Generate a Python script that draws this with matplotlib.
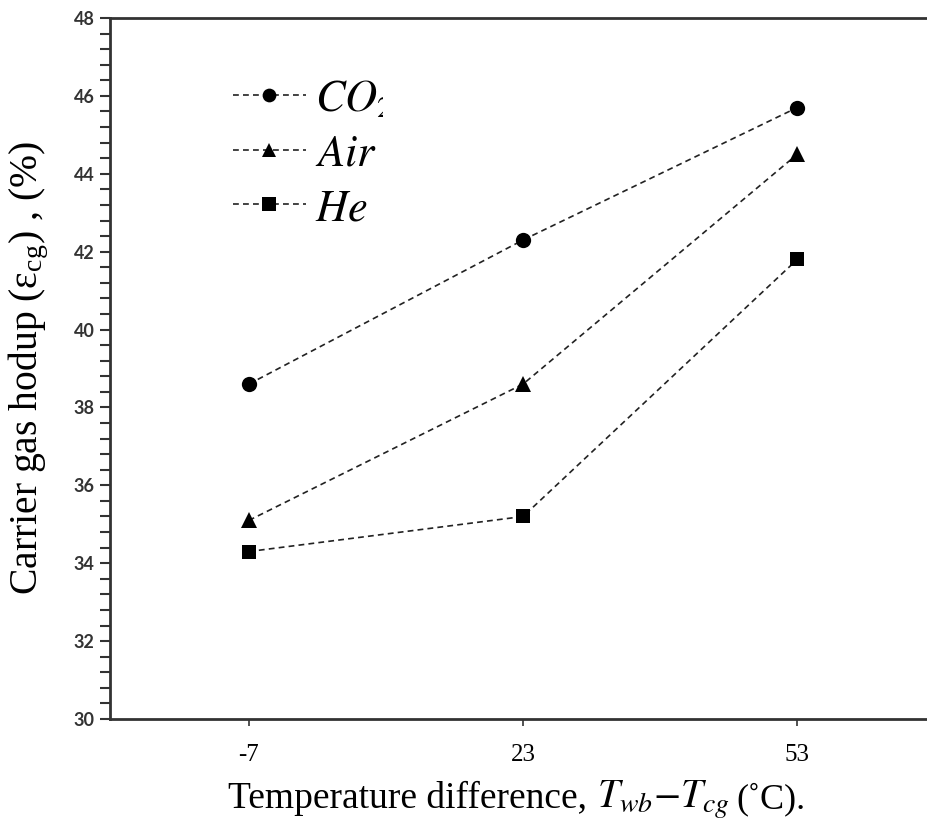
import matplotlib
matplotlib.use("Agg")
import matplotlib.pyplot as plt
from matplotlib.ticker import MultipleLocator, FixedLocator
from matplotlib.transforms import Bbox, TransformedBbox

temps = [-7, 23, 53]
temp_labels = ["-7", "23", "53"]
co2 = [38.6, 42.3, 45.7]
air = [35.1, 38.6, 44.5]
he = [34.3, 35.2, 41.8]
series_names = [r"$\mathit{CO_2}$", r"$\mathit{Air}$", r"$\mathit{He}$"]

plt.rcParams["mathtext.fontset"] = "stix"

fig = plt.figure(figsize=(9.27, 8.26), dpi=100)
ax = fig.add_axes([110/927, 1-719/826, 1-110/927, (719-18)/826])

line_kw = dict(color="#222222", linestyle=(0, (3.5, 2.5)), linewidth=1.2,
               markersize=11, markeredgewidth=0, markerfacecolor="black")
h1, = ax.plot(temps, co2, marker="o", **line_kw)
h2, = ax.plot(temps, air, marker="^", **line_kw)
h3, = ax.plot(temps, he, marker="s", **{**line_kw, "markersize": 10.5})

ax.set_xlim(-22.2, 67.2)
ax.set_ylim(30, 48)
ax.xaxis.set_major_locator(FixedLocator(temps))
ax.set_xticklabels(temp_labels)
ax.yaxis.set_major_locator(MultipleLocator(2))
ax.yaxis.set_minor_locator(MultipleLocator(0.4))

for s in ["left", "bottom", "top"]:
    ax.spines[s].set_linewidth(2)
    ax.spines[s].set_color("#333333")
ax.spines["right"].set_visible(False)

ax.tick_params(axis="y", which="both", direction="out", length=7, width=1.5,
               colors="#333333", labelsize=13, pad=4)
ax.tick_params(axis="x", which="major", direction="out", length=5, width=1.2,
               colors="#333333", labelsize=18, pad=13)
tick_clip = TransformedBbox(Bbox([[0, 1-763/826], [1, 1]]), fig.transFigure)
for t in ax.get_yticklabels():
    t.set_fontfamily("Lato")
    t.set_fontweight("bold")
for t in ax.get_xticklabels():
    t.set_fontfamily("Liberation Serif")
    t.set_color("black")
    t.set_clip_box(tick_clip)
    t.set_clip_on(True)

ax.set_ylabel(r"Carrier gas hodup ($\mathregular{\varepsilon_{cg}}$) , (%)",
              fontfamily="Liberation Serif", fontsize=28.5, labelpad=16)

# x label built from pieces (the math part is slightly larger in the reference)
base_y = 1 - 808/826
t1 = fig.text(228/927, base_y, "Temperature difference,", fontsize=27,
              fontfamily="Liberation Serif", va="baseline", ha="left")
fig.canvas.draw()
x1 = t1.get_window_extent().x1
t2 = fig.text((x1 + 10)/927, base_y, r"$T_{wb}$$-$$T_{cg}$", fontsize=28.5,
              va="baseline", ha="left")
fig.canvas.draw()
x2 = t2.get_window_extent().x1
fig.text((x2 + 7)/927, base_y, "(˚C).", fontsize=26,
         fontfamily="Liberation Serif", va="baseline", ha="left")

leg = ax.legend([h1, h2, h3], series_names, loc="upper left",
                bbox_to_anchor=(0.1016, 0.973), frameon=False,
                fontsize=32, handlelength=1.64, handletextpad=0.2,
                labelspacing=0.26, markerscale=0.9)
clip = TransformedBbox(Bbox([[0, 0], [383/927, 1]]), fig.transFigure)
for t in leg.get_texts():
    t.set_clip_box(clip)
    t.set_clip_on(True)

fig.savefig("out.png", dpi=100)
